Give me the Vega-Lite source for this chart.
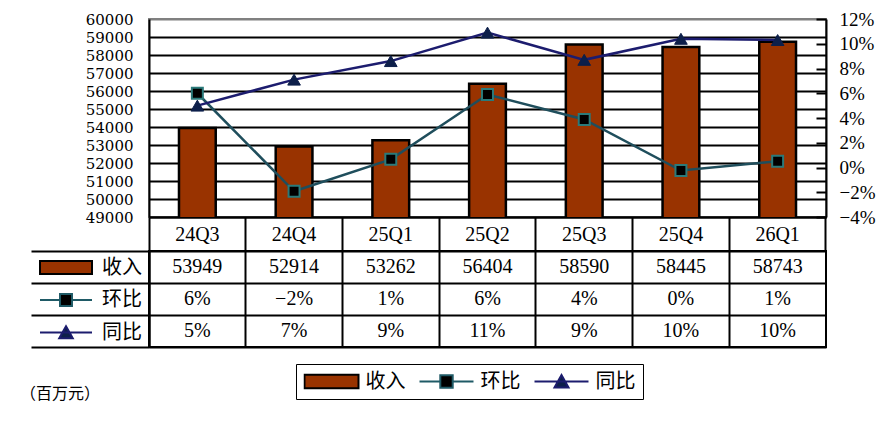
{
  "$schema": "https://vega.github.io/schema/vega-lite/v6.json",
  "padding": {"left": 19, "top": 9, "right": 5, "bottom": 5},
  "background": "white",
  "bounds": "flush",
  "spacing": 34,
  "config": {
    "font": "Liberation Serif",
    "view": {"stroke": null},
    "axis": {"labelColor": "black", "labelFont": "Liberation Serif", "labelOverlap": false}
  },
  "data": {
    "values": [
      {"q": "24Q3", "收入": 53949, "环比": 0.06, "同比": 0.05},
      {"q": "24Q4", "收入": 52914, "环比": -0.0192, "同比": 0.071},
      {"q": "25Q1", "收入": 53262, "环比": 0.0066, "同比": 0.086},
      {"q": "25Q2", "收入": 56404, "环比": 0.059, "同比": 0.109},
      {"q": "25Q3", "收入": 58590, "环比": 0.0388, "同比": 0.087},
      {"q": "25Q4", "收入": 58445, "环比": -0.0025, "同比": 0.104},
      {"q": "26Q1", "收入": 58743, "环比": 0.0051, "同比": 0.103}
    ]
  },
  "vconcat": [
    {
      "width": 677,
      "height": 198,
      "view": {"stroke": "#808080", "strokeWidth": 2},
      "encoding": {
        "x": {
          "field": "q", "type": "ordinal", "sort": null,
          "scale": {"type": "band", "paddingInner": 0, "paddingOuter": 0},
          "axis": {
            "title": null, "labelAngle": 0, "grid": false,
            "domain": true, "domainColor": "black", "domainWidth": 2,
            "ticks": true, "tickColor": "black", "tickWidth": 2, "tickSize": 34,
            "bandPosition": 1, "tickExtra": true,
            "labelFontSize": 20, "labelBaseline": "middle", "labelPadding": -17
          }
        }
      },
      "layer": [
        {
          "mark": {"type": "bar", "width": {"band": 0.38}, "fill": "#993300", "stroke": "black", "strokeWidth": 2.5, "clip": true},
          "encoding": {
            "y": {
              "field": "收入", "type": "quantitative",
              "scale": {"domain": [49000, 60000], "zero": false, "nice": false},
              "axis": {
                "title": null,
                "values": [49000, 50000, 51000, 52000, 53000, 54000, 55000, 56000, 57000, 58000, 59000, 60000],
                "format": "d", "grid": true,
                "gridColor": {"condition": {"test": "datum.value === 60000", "value": "#808080"}, "value": "black"},
                "gridWidth": 2, "ticks": false,
                "domainColor": "black", "domainWidth": 2,
                "labelFont": "DejaVu Serif", "labelFontSize": 15, "labelPadding": 16
              }
            }
          }
        },
        {
          "transform": [{"fold": ["环比", "同比"], "as": ["s", "v"]}],
          "encoding": {
            "y": {
              "field": "v", "type": "quantitative",
              "scale": {"domain": [-0.04, 0.12], "zero": false, "nice": false},
              "axis": {
                "title": null, "orient": "right", "grid": false,
                "values": [-0.04, -0.02, 0, 0.02, 0.04, 0.06, 0.08, 0.1, 0.12],
                "format": ".0%",
                "domainColor": "black", "domainWidth": 2,
                "ticks": true, "tickSize": -10, "tickColor": "black", "tickWidth": 2,
                "labelFontSize": 19, "labelPadding": 23
              }
            }
          },
          "layer": [
            {
              "mark": {"type": "line", "strokeWidth": 2.5},
              "encoding": {
                "color": {
                  "field": "s", "type": "nominal",
                  "scale": {"domain": ["环比", "同比"], "range": ["#1f4e5c", "#1c1c6e"]},
                  "legend": null
                }
              }
            },
            {
              "transform": [{"filter": "datum.s === '环比'"}],
              "mark": {"type": "point", "shape": "square", "filled": true, "fill": "black", "stroke": "#2a7a7a", "strokeWidth": 2, "size": 120, "opacity": 1}
            },
            {
              "transform": [{"filter": "datum.s === '同比'"}],
              "mark": {"type": "point", "shape": "triangle-up", "filled": true, "fill": "#0d1f4a", "stroke": "#0d1f4a", "strokeWidth": 1, "size": 160, "opacity": 1}
            }
          ]
        }
      ],
      "resolve": {"scale": {"y": "independent"}}
    },
    {
      "width": 677,
      "height": 96,
      "view": {"stroke": "black", "strokeWidth": 2},
      "title": {
        "text": "（百万元）", "orient": "bottom", "anchor": "start", "frame": "group",
        "font": "Noto Sans CJK SC", "fontSize": 16, "fontWeight": "normal", "color": "black",
        "offset": 0, "dx": -129, "dy": -14
      },
      "encoding": {
        "x": {
          "field": "q", "type": "ordinal", "sort": null,
          "scale": {"type": "band", "paddingInner": 0, "paddingOuter": 0},
          "axis": {
            "title": null, "grid": true, "bandPosition": 0, "gridColor": "black", "gridWidth": 2,
            "labels": false, "ticks": false, "domain": false
          }
        }
      },
      "layer": [
        {
          "mark": {"type": "text", "font": "Liberation Serif", "fontSize": 20, "color": "black"},
          "encoding": {
            "y": {
              "datum": "收入", "type": "nominal",
              "scale": {"type": "band", "domain": ["收入", "环比", "同比"], "paddingInner": 0, "paddingOuter": 0},
              "axis": {
                "title": null, "labels": false, "grid": true, "gridColor": "black", "gridWidth": 2,
                "bandPosition": 1, "tickExtra": true, "ticks": true, "tickSize": 118, "tickColor": "black", "tickWidth": 2,
                "domain": true, "domainColor": "black", "domainWidth": 2
              }
            },
            "text": {"field": "收入", "type": "quantitative", "format": "d"}
          }
        },
        {
          "mark": {"type": "text", "font": "Liberation Serif", "fontSize": 20, "color": "black"},
          "encoding": {
            "y": {"datum": "环比", "type": "nominal", "axis": null},
            "text": {"field": "环比", "type": "quantitative", "format": ".0%"}
          }
        },
        {
          "mark": {"type": "text", "font": "Liberation Serif", "fontSize": 20, "color": "black"},
          "encoding": {
            "y": {"datum": "同比", "type": "nominal", "axis": null},
            "text": {"field": "同比", "type": "quantitative", "format": ".0%"}
          }
        },
        {
          "data": {"values": []},
          "mark": {"type": "point", "filled": true, "opacity": 1},
          "encoding": {
            "y": {
              "datum": "收入", "type": "nominal",
              "axis": {"title": null, "offset": 118, "labels": false, "ticks": false, "grid": false, "domain": true, "domainColor": "black", "domainWidth": 2}
            },
            "fill": {
              "field": "s", "type": "nominal",
              "scale": {"domain": ["收入", "环比", "同比"], "range": ["#993300", "#000000", "#0d1f4a"]},
              "legend": {
                "orient": "none", "legendX": -110, "legendY": 6.5, "direction": "vertical", "title": null,
                "symbolSize": 2704, "symbolStrokeWidth": 2, "clipHeight": 20,
                "labelFont": "Noto Sans CJK SC", "labelFontSize": 20,
                "labelColor": "black", "labelOffset": 9, "rowPadding": 12.5, "padding": 0
              }
            },
            "stroke": {
              "field": "s", "type": "nominal",
              "scale": {"domain": ["收入", "环比", "同比"], "range": ["#000000", "#1f5a66", "#1c1c6e"]}
            },
            "shape": {
              "field": "s", "type": "nominal",
              "scale": {"domain": ["收入", "环比", "同比"], "range": ["M-1,-0.25H1V0.25H-1Z", "M-1,0H-0.23M0.23,0H1M-0.23,-0.23H0.23V0.23H-0.23Z", "M-1,0H1M0,-0.24L0.26,0.22H-0.26Z"]}
            }
          }
        },
        {
          "data": {"values": []},
          "mark": {"type": "point", "filled": true, "opacity": 1},
          "encoding": {
            "fill": {
              "field": "s", "type": "nominal",
              "scale": {"domain": ["收入", "环比", "同比"], "range": ["#993300", "#000000", "#0d1f4a"]},
              "legend": {
                "orient": "none", "legendX": 147, "legendY": 113, "direction": "horizontal", "title": null,
                "symbolSize": 2916, "symbolStrokeWidth": 2, "clipHeight": 20,
                "labelFont": "Noto Sans CJK SC", "labelFontSize": 20,
                "labelColor": "black", "labelOffset": 6, "columnPadding": 13, "padding": 7.5,
                "strokeColor": "black",
                "encode": {"legend": {"update": {"strokeWidth": {"value": 2}}}}
              }
            },
            "stroke": {
              "field": "s", "type": "nominal",
              "scale": {"domain": ["收入", "环比", "同比"], "range": ["#000000", "#1f5a66", "#1c1c6e"]}
            },
            "shape": {
              "field": "s", "type": "nominal",
              "scale": {"domain": ["收入", "环比", "同比"], "range": ["M-1,-0.25H1V0.25H-1Z", "M-1,0H-0.23M0.23,0H1M-0.23,-0.23H0.23V0.23H-0.23Z", "M-1,0H1M0,-0.24L0.26,0.22H-0.26Z"]}
            }
          }
        }
      ],
      "resolve": {
        "scale": {"fill": "independent", "stroke": "independent", "shape": "independent"},
        "axis": {"y": "independent"}
      }
    }
  ]
}
